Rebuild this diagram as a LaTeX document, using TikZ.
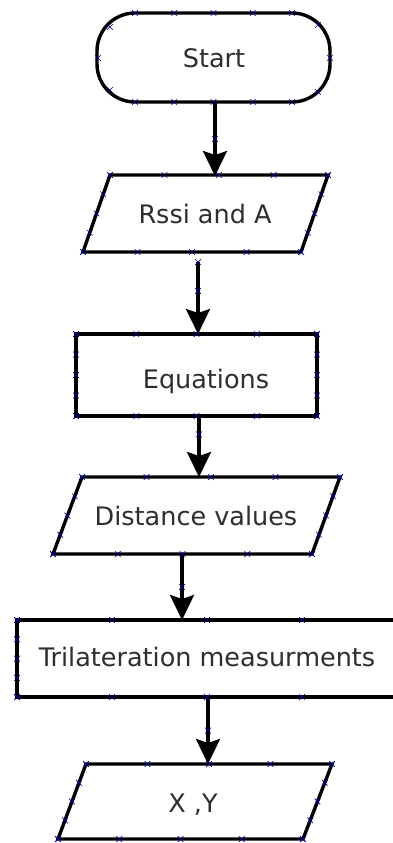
\documentclass[tikz,border=0pt]{standalone}
\usepackage{fontspec}
\setmainfont{DejaVu Sans}
\usetikzlibrary{calc,arrows.meta}
\tikzset{
  box/.style={draw=black, line width=3.4pt, line join=miter},
  arr/.style={draw=black, line width=3.4pt, -{Stealth[length=25pt,width=24pt,inset=4pt]}},
  lbl/.style={anchor=base, inner sep=0pt, text=black!82, font=\fontsize{25.5}{29}\selectfont},
  cp/.style={draw=blue!60!black, line width=0.7pt}
}
\newcommand\edgemarks[2]{%
  \foreach \f in {0,0.25,0.5,0.75,1}{%
    \path ($(#1)!\f!(#2)$) coordinate (mk);
    \draw[cp] (mk) +(-2.8,-2.8) -- +(2.8,2.8) (mk) +(-2.8,2.8) -- +(2.8,-2.8);
  }}
\newcommand\onemark[1]{%
  \draw[cp] (#1) +(-2.8,-2.8) -- +(2.8,2.8) (#1) +(-2.8,2.8) -- +(2.8,-2.8);}
\begin{document}
\begin{tikzpicture}[x=1pt,y=-1pt]
\useasboundingbox[fill=white] (0,0) rectangle (392,843);

% ---- Start (terminal)
\coordinate (s1) at (97,13);
\coordinate (s2) at (330,102);
\draw[box, rounded corners=38pt] (s1) rectangle (s2);
\node[lbl] (start) at (214,67) {Start};

% ---- Rssi and A (input)
\coordinate (r1) at (110,175);
\coordinate (r2) at (328,175);
\coordinate (r3) at (301,252);
\coordinate (r4) at (83,252);
\draw[box] (r1) -- (r2) -- (r3) -- (r4) -- cycle;
\node[lbl] (rssi) at (205,223) {Rssi and A};

% ---- Equations (process)
\coordinate (e1) at (76,334);
\coordinate (e2) at (317,334);
\coordinate (e3) at (317,416);
\coordinate (e4) at (76,416);
\draw[box] (e1) -- (e2) -- (e3) -- (e4) -- cycle;
\node[lbl] (eq) at (206,388) {Equations};

% ---- Distance values (input)
\coordinate (d1) at (82,477);
\coordinate (d2) at (340,477);
\coordinate (d3) at (312,554);
\coordinate (d4) at (53,554);
\draw[box] (d1) -- (d2) -- (d3) -- (d4) -- cycle;
\node[lbl] (dist) at (196,525) {Distance values};

% ---- Trilateration measurments (process)
\coordinate (t1) at (17,620);
\coordinate (t2) at (397,620);
\coordinate (t3) at (397,697);
\coordinate (t4) at (17,697);
\draw[box] (t1) -- (t2) -- (t3) -- (t4) -- cycle;
\node[lbl] (tri) at (207,666) {Trilateration measurments};

% ---- X ,Y (output)
\coordinate (x1) at (86,764);
\coordinate (x2) at (332,764);
\coordinate (x3) at (303,839);
\coordinate (x4) at (58,839);
\draw[box] (x1) -- (x2) -- (x3) -- (x4) -- cycle;
\node[lbl] (xy) at (193,812) {X ,Y};

% ---- connectors
\coordinate (a1s) at (215,102);  \coordinate (a1e) at (215,176);
\coordinate (a2s) at (198,262);  \coordinate (a2e) at (198,334);
\coordinate (a3s) at (199,416);  \coordinate (a3e) at (199,477);
\coordinate (a4s) at (182,554);  \coordinate (a4e) at (182,620);
\coordinate (a5s) at (208,697);  \coordinate (a5e) at (208,764);
\draw[arr] (a1s) -- (a1e);
\draw[arr] (a2s) -- (a2e);
\draw[arr] (a3s) -- (a3e);
\draw[arr] (a4s) -- (a4e);
\draw[arr] (a5s) -- (a5e);

% ---- connection point marks
\coordinate (st1) at (135,13);  \coordinate (st2) at (292,13);
\coordinate (sb1) at (135,102); \coordinate (sb2) at (292,102);
\edgemarks{st1}{st2}
\edgemarks{sb1}{sb2}
\coordinate (sl1) at (110,27); \onemark{sl1}
\coordinate (sl2) at (98,58);  \onemark{sl2}
\coordinate (sl3) at (110,90); \onemark{sl3}
\coordinate (sr1) at (318,25); \onemark{sr1}
\coordinate (sr2) at (330,58); \onemark{sr2}
\coordinate (sr3) at (318,92); \onemark{sr3}

\edgemarks{r1}{r2}\edgemarks{r2}{r3}\edgemarks{r4}{r3}\edgemarks{r1}{r4}
\edgemarks{e1}{e2}\edgemarks{e2}{e3}\edgemarks{e4}{e3}\edgemarks{e1}{e4}
\edgemarks{d1}{d2}\edgemarks{d2}{d3}\edgemarks{d4}{d3}\edgemarks{d1}{d4}
\edgemarks{t1}{t2}\edgemarks{t1}{t4}\edgemarks{t4}{t3}
\edgemarks{x1}{x2}\edgemarks{x2}{x3}\edgemarks{x4}{x3}\edgemarks{x1}{x4}

\coordinate (m1) at ($(a1s)!0.5!(a1e)$); \onemark{m1}
\coordinate (m2) at ($(a2s)!0.4!(a2e)$); \onemark{m2}
\coordinate (m3) at ($(a3s)!0.3!(a3e)$); \onemark{m3}
\coordinate (m4) at ($(a4s)!0.5!(a4e)$); \onemark{m4}
\coordinate (m5) at ($(a5s)!0.5!(a5e)$); \onemark{m5}
\onemark{a2s}
\end{tikzpicture}
\end{document}
